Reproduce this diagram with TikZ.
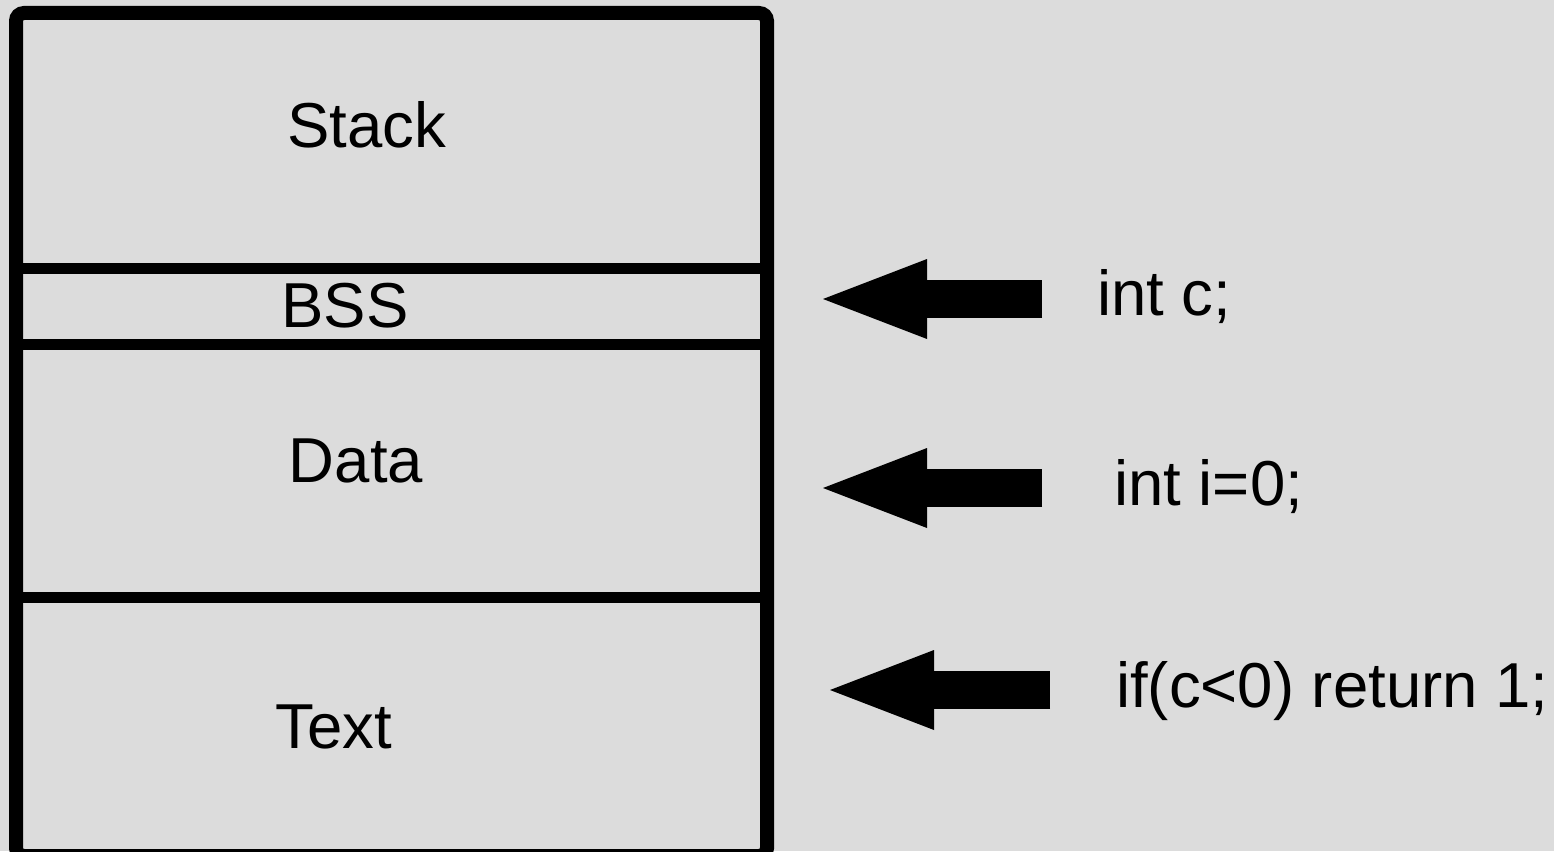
\documentclass[tikz,border=0pt]{standalone}
\usepackage{fontspec}
\setmainfont{Liberation Sans}
\usetikzlibrary{arrows.meta}
\definecolor{bg}{RGB}{220,220,220}
\begin{document}
\begin{tikzpicture}[x=1pt,y=-1pt,
  lbl/.style={inner sep=0pt,anchor=base,font=\fontsize{63.5}{76}\selectfont},
  code/.style={inner sep=0pt,anchor=base west,font=\fontsize{63.5}{76}\selectfont},
  boxline/.style={line width=14pt},
  divline/.style={line width=11pt},
  blockarr/.style={line width=38pt,-{Triangle[length=104pt,width=80pt,line width=0pt]}}]
\useasboundingbox (0,0) rectangle (1554,851);
\fill[bg] (0,0) rectangle (1554,851);
\begin{scope}
\clip (0,0) rectangle (1554,851);
\draw[boxline,rounded corners=8pt] (16,13) rectangle (767,856);
\end{scope}
\coordinate (d1l) at (16,268); \coordinate (d1r) at (767,268);
\coordinate (d2l) at (16,344); \coordinate (d2r) at (767,344);
\coordinate (d3l) at (16,597); \coordinate (d3r) at (767,597);
\draw[divline] (d1l) -- (d1r);
\draw[divline] (d2l) -- (d2r);
\draw[divline] (d3l) -- (d3r);
\node[lbl] (stack) at (367,147) {Stack};
\node[lbl] (bss) at (345,327) {BSS};
\node[lbl] (data) at (356,482) {Data};
\node[lbl] (text) at (334,748) {Text};
\node[code] (c1) at (1097,315) {int c;};
\node[code] (c2) at (1114,505) {int i=0;};
\node[code] (c3) at (1116,707) {if(c<0) return 1;};
\coordinate (s1) at (1042,299); \coordinate (e1) at (823,299);
\coordinate (s2) at (1042,488); \coordinate (e2) at (823,488);
\coordinate (s3) at (1050,690); \coordinate (e3) at (830,690);
\draw[blockarr] (s1) -- (e1);
\draw[blockarr] (s2) -- (e2);
\draw[blockarr] (s3) -- (e3);
\end{tikzpicture}
\end{document}
